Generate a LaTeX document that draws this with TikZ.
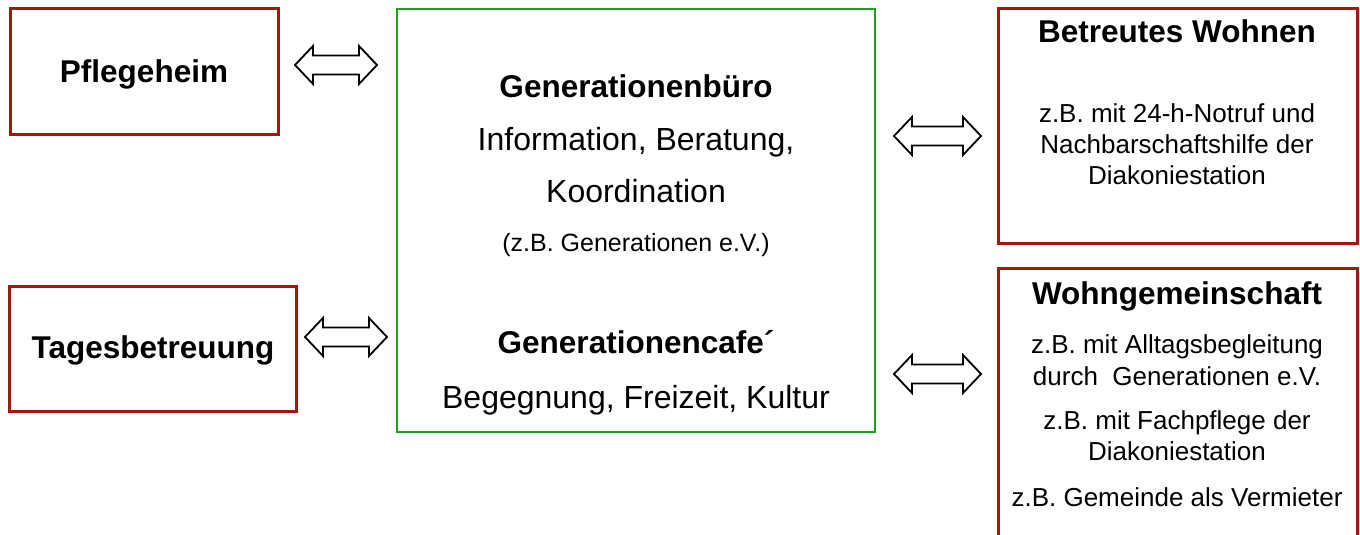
\documentclass[tikz,border=0pt]{standalone}
\usepackage{fontspec}
\setmainfont{Liberation Sans}
\definecolor{boxred}{RGB}{155,27,14}
\definecolor{boxgreen}{RGB}{30,158,30}
\tikzset{
  redbox/.style={draw=boxred, line width=3pt, fill=white},
  greenbox/.style={draw=boxgreen, line width=2pt},
  big/.style={font=\fontsize{32}{38}\selectfont},
  bigb/.style={font=\fontsize{31.5}{38}\selectfont\bfseries},
  mid/.style={font=\fontsize{26}{31}\selectfont},
  sml/.style={font=\fontsize{25}{30}\selectfont},
  dbl/.style={draw=black, line width=1.8pt, line join=miter, fill=white},
  txt/.style={inner sep=0pt, anchor=base}
}
\newcommand{\dblarr}[4]{% x1 x2 yc halfshaft
  \draw[dbl] (#1,#3) -- (#1+18,#3-19) -- (#1+18,#3-#4) -- (#2-18,#3-#4) -- (#2-18,#3-19)
     -- (#2,#3) -- (#2-18,#3+19) -- (#2-18,#3+#4) -- (#1+18,#3+#4) -- (#1+18,#3+19) -- cycle;}
\begin{document}
\begin{tikzpicture}[x=1pt,y=-1pt]
\useasboundingbox (0,0) rectangle (1360,535);
\clip (0,0) rectangle (1360,535);
% boxes
\draw[redbox] (10,9) rectangle (278,134);
\draw[redbox] (9,286) rectangle (296,411);
\draw[greenbox] (397,9) rectangle (875,432);
\draw[redbox] (998,9) rectangle (1357,243);
\draw[redbox] (998,268) rectangle (1357,560);
% arrows
\dblarr{295}{377}{65}{9.5}
\dblarr{305}{387}{337}{9.5}
\dblarr{894}{981}{136}{9.5}
\dblarr{894}{981}{374}{9.5}
% left texts
\node[txt,bigb] (pfl) at (144,82) {Pflegeheim};
\node[txt,bigb] (tag) at (153,358) {Tagesbetreuung};
% center texts
\node[txt,bigb] (gb) at (636,97) {Generationenbüro};
\node[txt,big] (info) at (636,150) {Information, Beratung,};
\node[txt,big] (koord) at (636,202) {Koordination};
\node[txt,sml] (zb) at (636,251) {(z.B. Generationen e.V.)};
\node[txt,bigb] (gc) at (636,353) {Generationencafe\char"00B4};
\node[txt,big] (beg) at (636,408) {Begegnung, Freizeit, Kultur};
% right top
\node[txt,bigb] (bw) at (1177,43) {Betreutes Wohnen};
\node[txt,mid] (bw1) at (1177,122) {z.B. mit 24-h-Notruf und};
\node[txt,mid] (bw2) at (1177,153) {Nachbarschaftshilfe der};
\node[txt,mid] (bw3) at (1177,184) {Diakoniestation};
% right bottom
\node[txt,bigb] (wg) at (1177,304) {Wohngemeinschaft};
\node[txt,mid] (wg1) at (1177,353) {z.B. mit Alltagsbegleitung};
\node[txt,mid] (wg2) at (1177,385) {durch\ \ Generationen e.V.};
\node[txt,mid] (wg3) at (1177,429) {z.B. mit Fachpflege der};
\node[txt,mid] (wg4) at (1177,460) {Diakoniestation};
\node[txt,mid] (wg5) at (1177,506) {z.B. Gemeinde als Vermieter};
\end{tikzpicture}
\end{document}
